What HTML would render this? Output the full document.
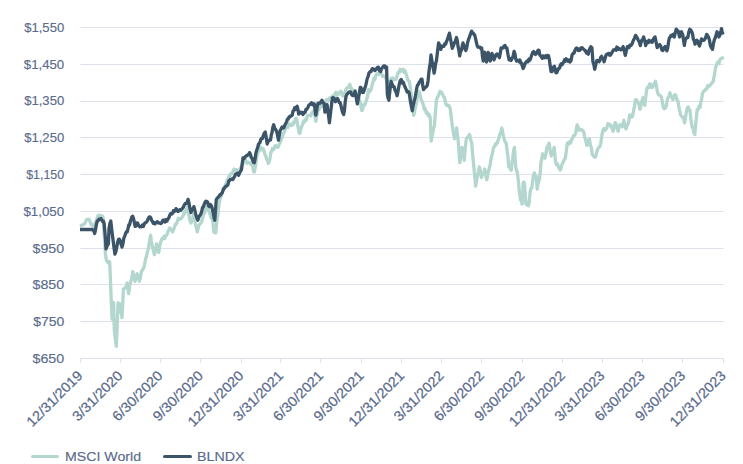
<!DOCTYPE html>
<html><head><meta charset="utf-8"><style>
html,body{margin:0;padding:0;background:#fff;}
body{width:743px;height:464px;overflow:hidden;}
svg{display:block;}
.t{font-family:"Liberation Sans",sans-serif;font-size:13px;fill:#5a6b8c;stroke:#5a6b8c;stroke-width:0.15px;}
.xl{font-size:14px;stroke-width:0.25px;}
</style></head><body>
<svg width="743" height="464" viewBox="0 0 743 464">
<line x1="80.5" y1="27.5" x2="723.5" y2="27.5" stroke="#dde1ea" stroke-width="1"/>
<text x="24.2" y="31.8" textLength="40.0" lengthAdjust="spacingAndGlyphs" class="t">$1,550</text>
<line x1="80.5" y1="64.5" x2="723.5" y2="64.5" stroke="#dde1ea" stroke-width="1"/>
<text x="23.8" y="68.6" textLength="40.4" lengthAdjust="spacingAndGlyphs" class="t">$1,450</text>
<line x1="80.5" y1="101.5" x2="723.5" y2="101.5" stroke="#dde1ea" stroke-width="1"/>
<text x="24.2" y="105.4" textLength="40.0" lengthAdjust="spacingAndGlyphs" class="t">$1,350</text>
<line x1="80.5" y1="137.5" x2="723.5" y2="137.5" stroke="#dde1ea" stroke-width="1"/>
<text x="24.2" y="142.1" textLength="40.0" lengthAdjust="spacingAndGlyphs" class="t">$1,250</text>
<line x1="80.5" y1="174.5" x2="723.5" y2="174.5" stroke="#dde1ea" stroke-width="1"/>
<text x="26.2" y="178.9" textLength="38.0" lengthAdjust="spacingAndGlyphs" class="t">$1,150</text>
<line x1="80.5" y1="211.5" x2="723.5" y2="211.5" stroke="#dde1ea" stroke-width="1"/>
<text x="23.4" y="215.7" textLength="40.8" lengthAdjust="spacingAndGlyphs" class="t">$1,050</text>
<line x1="80.5" y1="248.5" x2="723.5" y2="248.5" stroke="#dde1ea" stroke-width="1"/>
<text x="32.5" y="252.5" textLength="31.7" lengthAdjust="spacingAndGlyphs" class="t">$950</text>
<line x1="80.5" y1="284.5" x2="723.5" y2="284.5" stroke="#dde1ea" stroke-width="1"/>
<text x="32.5" y="289.2" textLength="31.7" lengthAdjust="spacingAndGlyphs" class="t">$850</text>
<line x1="80.5" y1="321.5" x2="723.5" y2="321.5" stroke="#dde1ea" stroke-width="1"/>
<text x="33.2" y="326.0" textLength="31.0" lengthAdjust="spacingAndGlyphs" class="t">$750</text>
<line x1="80.5" y1="358.5" x2="723.5" y2="358.5" stroke="#dde1ea" stroke-width="1"/>
<text x="32.5" y="362.8" textLength="31.7" lengthAdjust="spacingAndGlyphs" class="t">$650</text>
<line x1="80.5" y1="358.5" x2="80.5" y2="363" stroke="#dde1ea" stroke-width="1"/>
<text transform="translate(83.30,376.6) rotate(-45) scale(1.03,1)" text-anchor="end" class="t xl">12/31/2019</text>
<line x1="120.5" y1="358.5" x2="120.5" y2="363" stroke="#dde1ea" stroke-width="1"/>
<text transform="translate(123.37,376.6) rotate(-45) scale(1.03,1)" text-anchor="end" class="t xl">3/31/2020</text>
<line x1="160.5" y1="358.5" x2="160.5" y2="363" stroke="#dde1ea" stroke-width="1"/>
<text transform="translate(163.43,376.6) rotate(-45) scale(1.03,1)" text-anchor="end" class="t xl">6/30/2020</text>
<line x1="200.5" y1="358.5" x2="200.5" y2="363" stroke="#dde1ea" stroke-width="1"/>
<text transform="translate(203.94,376.6) rotate(-45) scale(1.03,1)" text-anchor="end" class="t xl">9/30/2020</text>
<line x1="241.5" y1="358.5" x2="241.5" y2="363" stroke="#dde1ea" stroke-width="1"/>
<text transform="translate(244.45,376.6) rotate(-45) scale(1.03,1)" text-anchor="end" class="t xl">12/31/2020</text>
<line x1="280.5" y1="358.5" x2="280.5" y2="363" stroke="#dde1ea" stroke-width="1"/>
<text transform="translate(284.08,376.6) rotate(-45) scale(1.03,1)" text-anchor="end" class="t xl">3/31/2021</text>
<line x1="320.5" y1="358.5" x2="320.5" y2="363" stroke="#dde1ea" stroke-width="1"/>
<text transform="translate(324.14,376.6) rotate(-45) scale(1.03,1)" text-anchor="end" class="t xl">6/30/2021</text>
<line x1="361.5" y1="358.5" x2="361.5" y2="363" stroke="#dde1ea" stroke-width="1"/>
<text transform="translate(364.65,376.6) rotate(-45) scale(1.03,1)" text-anchor="end" class="t xl">9/30/2021</text>
<line x1="401.5" y1="358.5" x2="401.5" y2="363" stroke="#dde1ea" stroke-width="1"/>
<text transform="translate(405.16,376.6) rotate(-45) scale(1.03,1)" text-anchor="end" class="t xl">12/31/2021</text>
<line x1="441.5" y1="358.5" x2="441.5" y2="363" stroke="#dde1ea" stroke-width="1"/>
<text transform="translate(444.79,376.6) rotate(-45) scale(1.03,1)" text-anchor="end" class="t xl">3/31/2022</text>
<line x1="481.5" y1="358.5" x2="481.5" y2="363" stroke="#dde1ea" stroke-width="1"/>
<text transform="translate(484.85,376.6) rotate(-45) scale(1.03,1)" text-anchor="end" class="t xl">6/30/2022</text>
<line x1="522.5" y1="358.5" x2="522.5" y2="363" stroke="#dde1ea" stroke-width="1"/>
<text transform="translate(525.36,376.6) rotate(-45) scale(1.03,1)" text-anchor="end" class="t xl">9/30/2022</text>
<line x1="562.5" y1="358.5" x2="562.5" y2="363" stroke="#dde1ea" stroke-width="1"/>
<text transform="translate(565.87,376.6) rotate(-45) scale(1.03,1)" text-anchor="end" class="t xl">12/31/2022</text>
<line x1="602.5" y1="358.5" x2="602.5" y2="363" stroke="#dde1ea" stroke-width="1"/>
<text transform="translate(605.50,376.6) rotate(-45) scale(1.03,1)" text-anchor="end" class="t xl">3/31/2023</text>
<line x1="642.5" y1="358.5" x2="642.5" y2="363" stroke="#dde1ea" stroke-width="1"/>
<text transform="translate(645.56,376.6) rotate(-45) scale(1.03,1)" text-anchor="end" class="t xl">6/30/2023</text>
<line x1="682.5" y1="358.5" x2="682.5" y2="363" stroke="#dde1ea" stroke-width="1"/>
<text transform="translate(686.07,376.6) rotate(-45) scale(1.03,1)" text-anchor="end" class="t xl">9/30/2023</text>
<line x1="723.5" y1="358.5" x2="723.5" y2="363" stroke="#dde1ea" stroke-width="1"/>
<text transform="translate(726.58,376.6) rotate(-45) scale(1.03,1)" text-anchor="end" class="t xl">12/31/2023</text>
<path d="M80.0,226.2 L80.9,225.7 L81.8,225.2 L82.7,224.8 L83.6,224.3 L84.5,223.8 L85.6,221.7 L86.7,219.5 L87.5,219.5 L88.4,219.5 L89.2,219.5 L90.2,222.2 L91.3,225.0 L92.2,224.5 L93.1,226.2 L94.0,226.6 L94.8,223.9 L95.6,222.7 L96.4,220.7 L97.2,218.0 L98.0,215.7 L98.8,215.0 L99.7,217.8 L100.5,215.9 L101.4,215.6 L102.4,216.2 L103.3,218.0 L104.0,231.8 L104.8,241.7 L105.4,254.3 L106.5,260.8 L107.3,261.0 L108.1,262.7 L108.9,261.5 L109.7,261.9 L110.3,275.9 L111.2,299.6 L112.1,319.2 L112.8,311.5 L113.6,302.6 L114.3,329.8 L115.2,338.0 L116.3,346.4 L117.3,322.2 L118.1,302.6 L119.0,312.0 L119.7,306.7 L120.4,304.1 L121.2,311.4 L122.0,317.7 L122.7,304.8 L123.4,289.0 L124.5,288.3 L125.6,287.5 L126.3,286.2 L127.1,283.0 L127.9,289.0 L128.7,293.6 L129.6,286.2 L130.6,282.3 L131.7,278.0 L132.8,271.6 L133.9,276.8 L135.0,281.3 L136.1,276.7 L137.1,273.7 L138.2,275.6 L139.3,281.3 L140.4,277.9 L141.4,271.6 L142.5,269.8 L143.6,268.3 L144.6,264.3 L145.7,258.6 L146.5,256.4 L147.3,252.1 L148.2,249.3 L149.0,243.9 L149.8,239.2 L150.7,235.3 L151.4,241.9 L152.2,246.0 L153.3,250.1 L154.4,254.7 L155.4,251.0 L156.5,243.9 L157.6,249.7 L158.7,252.5 L159.8,245.5 L160.8,241.7 L161.9,238.7 L162.9,238.6 L163.8,236.5 L164.7,238.5 L165.5,235.5 L166.4,235.3 L167.3,233.8 L168.1,231.1 L168.9,230.0 L169.7,228.0 L170.7,228.8 L171.6,230.0 L172.6,231.9 L173.6,229.6 L174.5,227.0 L175.5,224.1 L176.5,223.8 L177.4,221.0 L178.4,218.3 L179.4,219.4 L180.4,218.6 L181.3,218.5 L182.3,216.7 L183.3,215.4 L184.3,212.1 L185.2,212.9 L186.2,209.5 L187.1,209.5 L188.1,205.7 L189.1,216.3 L190.1,221.3 L191.0,223.1 L191.8,220.5 L192.7,218.2 L193.5,214.4 L194.4,217.6 L195.4,224.5 L196.4,227.8 L197.3,231.9 L198.1,228.4 L199.0,225.0 L199.8,224.1 L200.8,223.2 L201.7,221.5 L202.7,217.3 L203.7,213.0 L204.6,213.2 L205.6,208.9 L206.6,206.6 L207.6,207.2 L208.5,209.7 L209.5,212.5 L210.5,215.8 L211.4,218.5 L212.4,219.2 L213.1,223.7 L213.8,231.9 L214.8,232.8 L215.8,232.8 L216.5,224.2 L217.2,219.2 L218.2,211.9 L219.2,202.8 L220.2,198.5 L221.1,197.0 L222.1,193.8 L223.1,188.2 L223.9,187.1 L224.7,188.0 L225.5,184.2 L226.3,183.9 L227.1,180.3 L227.9,180.5 L228.8,176.3 L229.6,176.3 L230.5,174.0 L231.4,173.8 L232.3,173.5 L233.2,170.7 L234.1,169.1 L235.0,169.9 L235.9,171.6 L236.7,169.6 L237.6,172.4 L238.4,172.4 L239.3,171.0 L240.2,168.5 L241.1,166.9 L242.0,165.1 L242.9,163.6 L243.8,161.5 L244.7,159.1 L245.5,160.1 L246.3,161.2 L247.1,163.3 L247.9,162.3 L248.7,162.6 L249.5,162.6 L250.3,164.0 L251.1,163.4 L251.9,164.5 L252.8,166.9 L253.6,171.8 L254.4,172.0 L255.2,167.5 L256.0,163.0 L256.8,156.3 L257.6,153.7 L258.4,151.7 L259.2,150.8 L260.0,146.9 L260.8,147.2 L261.6,148.8 L262.5,149.9 L263.3,148.7 L264.1,151.6 L265.0,154.5 L265.8,156.2 L266.7,159.4 L267.5,160.5 L268.4,163.4 L269.2,161.3 L270.0,158.5 L270.8,152.6 L271.6,151.6 L272.4,148.5 L273.2,149.6 L274.0,149.4 L274.8,146.2 L275.6,145.5 L276.5,146.5 L277.3,147.3 L278.1,147.2 L279.1,144.3 L280.0,142.9 L281.1,139.7 L282.2,137.6 L283.0,134.7 L283.8,132.8 L284.6,131.5 L285.4,129.0 L286.3,127.3 L287.1,126.8 L288.0,127.5 L288.8,123.7 L289.7,124.7 L290.5,125.0 L291.3,125.6 L292.1,123.9 L292.9,124.7 L293.7,122.0 L294.5,122.7 L295.4,118.8 L296.2,118.2 L297.0,120.7 L297.8,125.5 L298.6,130.3 L299.4,133.3 L300.0,133.3 L301.0,128.2 L302.0,125.6 L303.0,122.8 L303.9,121.0 L304.7,122.0 L305.6,119.3 L306.4,119.9 L307.3,116.0 L308.1,115.6 L309.0,115.2 L309.9,115.3 L310.8,115.7 L311.6,113.5 L312.5,112.1 L313.4,111.2 L314.3,112.2 L315.1,116.9 L315.8,121.3 L316.6,116.0 L317.3,114.5 L318.1,109.2 L319.0,109.6 L320.0,106.1 L320.9,105.5 L321.9,106.7 L322.8,105.1 L323.7,104.8 L324.7,102.0 L325.6,101.7 L326.5,99.6 L327.3,99.6 L328.2,100.9 L329.1,98.2 L330.0,97.8 L330.8,97.4 L331.7,97.1 L332.6,96.2 L333.4,95.6 L334.2,97.1 L335.1,93.5 L335.9,92.3 L336.8,95.5 L337.6,94.7 L338.5,92.6 L339.6,93.8 L340.7,91.1 L341.7,92.3 L342.7,95.9 L343.7,95.6 L344.7,94.8 L345.8,89.5 L346.8,88.1 L347.8,87.8 L348.8,86.9 L349.8,84.3 L350.9,87.6 L352.0,89.6 L352.9,90.4 L353.9,90.3 L354.9,91.2 L355.8,92.6 L356.8,93.4 L357.7,94.7 L358.7,98.7 L359.6,100.2 L360.7,104.6 L361.8,110.7 L362.6,109.9 L363.3,104.9 L364.1,104.7 L364.9,104.8 L365.6,102.5 L366.4,100.2 L367.5,96.6 L368.6,89.6 L369.3,92.0 L370.0,91.2 L371.0,89.8 L372.0,85.4 L373.0,82.1 L373.9,78.3 L374.9,79.3 L375.9,75.2 L376.8,74.6 L377.8,73.4 L378.7,74.5 L379.7,73.6 L380.6,73.1 L381.5,73.5 L382.5,76.4 L383.4,75.8 L384.3,76.1 L385.2,77.4 L386.2,78.9 L387.2,83.2 L388.1,83.7 L389.1,81.8 L390.1,81.3 L391.1,78.4 L392.1,78.2 L393.0,77.9 L393.9,79.7 L394.9,79.9 L396.0,79.3 L397.1,76.1 L398.1,72.5 L399.2,72.7 L400.2,69.3 L401.2,71.0 L402.2,70.5 L403.2,69.3 L404.2,72.4 L405.2,70.9 L406.2,74.6 L407.0,77.1 L407.7,80.1 L408.5,80.6 L409.2,81.1 L410.0,85.2 L411.1,93.3 L412.2,103.3 L412.9,108.4 L413.7,115.3 L414.5,111.9 L415.2,108.0 L416.0,104.8 L416.8,100.2 L417.5,96.8 L418.3,91.2 L419.3,92.2 L420.3,95.4 L421.3,100.2 L422.3,101.7 L423.3,104.8 L424.3,109.3 L425.3,108.6 L426.3,113.2 L427.3,112.3 L428.3,115.7 L429.3,114.6 L430.3,118.3 L431.2,141.0 L432.0,136.7 L432.9,132.3 L433.6,128.4 L434.4,126.0 L435.4,112.4 L436.4,100.2 L437.3,97.4 L438.2,96.3 L439.1,93.8 L440.0,91.2 L440.9,92.0 L441.8,92.8 L442.7,94.7 L443.6,96.8 L444.4,97.4 L445.2,101.3 L446.0,104.1 L446.8,105.4 L447.6,105.7 L448.5,105.3 L449.4,106.5 L450.2,108.6 L451.2,116.7 L452.3,125.9 L453.4,132.8 L454.5,138.8 L455.6,134.5 L456.6,128.0 L457.5,135.1 L458.4,143.1 L459.1,154.0 L459.9,162.5 L460.9,155.4 L462.0,147.4 L463.1,153.6 L464.2,160.3 L465.2,149.0 L466.3,138.8 L467.1,137.7 L468.0,137.5 L468.8,135.3 L469.6,134.5 L470.6,139.6 L471.7,143.1 L472.5,152.6 L473.4,162.5 L474.5,173.3 L475.6,186.2 L476.4,182.0 L477.1,177.6 L478.2,173.0 L479.3,166.8 L480.4,170.5 L481.4,177.6 L482.2,175.1 L483.0,173.0 L483.9,172.7 L484.7,169.0 L485.8,176.1 L486.8,179.7 L487.9,173.8 L489.0,169.0 L490.1,165.2 L491.1,158.2 L492.2,154.5 L493.3,148.5 L494.1,146.5 L494.9,146.2 L495.7,143.8 L496.5,144.2 L497.3,143.0 L498.1,140.0 L498.9,138.5 L499.7,134.5 L500.8,132.4 L501.9,128.0 L503.0,134.1 L504.1,138.8 L505.1,141.9 L506.2,143.1 L507.1,150.8 L508.1,158.0 L508.6,166.5 L509.5,166.1 L510.4,169.3 L511.3,170.2 L512.0,162.2 L512.7,158.2 L513.5,151.4 L514.4,147.4 L515.6,166.5 L516.4,170.3 L517.2,171.9 L518.3,180.5 L519.4,192.3 L520.5,199.9 L521.3,200.2 L522.1,204.2 L523.2,182.6 L523.9,182.1 L524.6,184.8 L525.9,204.2 L526.7,203.1 L527.5,205.3 L528.3,205.7 L529.1,203.1 L530.2,191.3 L531.0,188.4 L531.8,188.0 L532.9,179.4 L533.7,174.2 L534.5,172.9 L535.3,175.9 L536.1,176.2 L537.2,189.1 L538.0,183.8 L538.8,181.6 L539.6,177.6 L540.4,170.8 L540.9,162.2 L541.8,158.7 L542.6,153.9 L543.7,157.4 L544.8,158.2 L545.8,154.6 L546.9,147.4 L548.0,145.6 L549.1,143.1 L550.2,150.7 L551.3,156.0 L552.2,151.3 L553.2,151.3 L554.1,147.4 L554.9,155.0 L555.6,162.5 L556.5,164.8 L557.5,163.8 L558.4,166.8 L559.2,168.5 L560.1,170.0 L560.9,169.0 L562.0,164.0 L563.1,162.5 L564.2,159.6 L565.3,158.2 L566.3,150.9 L567.4,143.1 L568.2,144.4 L569.0,142.1 L569.8,141.8 L570.6,143.1 L571.5,139.6 L572.5,138.6 L573.4,135.6 L574.5,135.5 L575.6,133.4 L576.4,128.7 L577.1,124.8 L578.2,127.0 L579.3,130.2 L580.1,129.8 L580.9,129.6 L581.7,129.9 L582.5,130.2 L583.6,131.7 L584.7,136.6 L585.8,141.0 L586.8,145.3 L587.7,145.0 L588.5,140.6 L589.4,138.8 L590.3,144.8 L591.3,147.5 L592.2,153.9 L593.0,155.5 L593.8,156.5 L594.6,157.0 L595.4,157.1 L596.3,154.3 L597.1,151.3 L598.0,148.5 L598.9,147.3 L599.9,146.5 L600.8,143.1 L601.9,135.2 L603.0,130.2 L604.0,128.6 L605.1,130.2 L606.0,129.0 L607.0,127.5 L607.9,123.7 L608.8,124.1 L609.6,124.2 L610.5,124.8 L611.4,127.8 L612.2,127.9 L613.1,131.3 L614.2,126.0 L615.3,122.6 L616.2,124.3 L617.2,128.7 L618.1,131.3 L619.0,127.3 L620.0,124.8 L621.1,124.7 L622.2,126.8 L623.0,124.3 L623.9,120.3 L625.0,126.5 L626.0,129.0 L627.1,125.5 L628.2,123.6 L629.0,120.1 L629.7,115.0 L630.8,115.7 L631.9,117.1 L632.6,115.8 L633.4,111.7 L634.5,106.1 L635.5,99.9 L636.6,100.0 L637.7,102.0 L638.5,103.3 L639.2,105.0 L640.0,109.3 L641.0,105.3 L641.9,101.0 L642.9,97.6 L643.8,100.2 L644.8,105.4 L645.8,96.6 L646.8,88.9 L647.8,87.0 L648.8,87.6 L649.7,83.9 L650.7,84.1 L651.7,87.5 L652.6,87.0 L653.6,85.0 L654.5,83.5 L655.5,81.2 L656.5,86.4 L657.4,91.8 L658.4,94.4 L659.3,95.5 L660.3,95.7 L661.3,96.7 L662.3,101.9 L663.3,107.3 L664.2,108.7 L665.2,108.3 L666.2,106.2 L667.1,100.8 L668.1,97.6 L669.0,96.1 L670.0,92.8 L671.0,96.9 L671.9,97.2 L672.9,99.6 L673.9,96.1 L674.9,94.7 L675.9,95.6 L676.8,99.4 L677.8,100.5 L678.8,106.6 L679.7,111.2 L680.7,115.0 L681.6,116.5 L682.6,117.0 L683.6,118.9 L684.6,122.8 L685.6,116.4 L686.5,111.5 L687.5,107.3 L688.3,107.0 L689.2,110.1 L690.0,110.2 L690.7,117.9 L691.4,122.8 L692.2,127.3 L693.1,127.7 L693.9,133.0 L694.8,134.5 L695.6,125.4 L696.4,117.4 L697.2,109.3 L698.2,109.5 L699.1,106.3 L700.1,107.3 L700.9,101.2 L701.6,99.6 L702.4,93.8 L703.3,91.7 L704.1,90.8 L705.0,90.4 L705.9,88.9 L706.9,88.9 L707.8,85.5 L708.8,86.1 L709.8,86.0 L710.8,84.4 L711.7,83.3 L712.7,82.1 L713.1,81.6 L714.4,75.0 L715.3,69.1 L716.3,65.5 L717.6,62.2 L718.9,63.5 L720.2,59.0 L721.2,58.7 L722.2,57.7 L723.0,59.6" fill="none" stroke="#b3d6cf" stroke-width="3.3" stroke-linejoin="round" stroke-linecap="butt"/>
<path d="M80.0,229.5 L80.9,229.5 L81.8,229.5 L82.7,229.5 L83.5,229.5 L84.4,229.5 L85.3,229.5 L86.2,229.5 L87.1,229.5 L88.0,229.5 L88.9,229.5 L89.7,229.5 L90.6,229.5 L91.5,229.5 L92.4,229.5 L93.2,230.3 L93.9,231.0 L94.7,233.5 L95.6,229.2 L96.5,224.0 L97.3,221.0 L98.1,220.9 L98.9,219.2 L99.9,219.2 L100.9,218.6 L101.9,220.4 L102.7,221.6 L103.4,221.3 L104.2,224.0 L105.4,238.2 L106.0,248.9 L106.8,247.1 L107.6,244.3 L108.4,244.1 L109.0,228.7 L109.9,223.5 L110.8,221.0 L111.9,231.1 L112.8,238.0 L113.7,245.3 L114.9,254.2 L115.8,252.0 L116.7,247.7 L117.6,242.3 L118.5,239.4 L119.3,239.1 L120.2,240.6 L121.1,244.3 L122.0,247.1 L122.9,244.1 L123.8,238.2 L124.7,236.1 L125.6,233.5 L126.4,231.6 L127.2,231.8 L128.0,228.7 L128.8,224.9 L129.5,225.1 L130.3,221.6 L131.1,219.2 L131.9,216.9 L132.7,216.3 L133.5,218.4 L134.3,222.4 L135.1,226.4 L135.9,226.2 L136.6,223.0 L137.4,222.8 L138.2,224.4 L139.0,226.0 L139.8,226.9 L140.7,226.4 L141.6,226.8 L142.5,225.1 L143.4,226.4 L144.4,223.6 L145.3,222.7 L146.3,222.2 L147.3,221.0 L148.3,218.4 L149.3,216.9 L150.0,216.9 L150.8,217.9 L151.7,220.4 L152.5,221.6 L153.3,223.4 L154.1,222.5 L154.9,223.8 L155.7,223.2 L156.5,222.3 L157.4,221.7 L158.2,222.9 L159.1,223.0 L160.0,223.1 L161.0,223.6 L161.9,222.4 L162.9,220.2 L163.9,220.2 L164.9,222.1 L165.8,219.6 L166.8,221.2 L167.8,219.0 L168.7,218.2 L169.7,215.4 L170.7,213.6 L171.6,214.0 L172.6,213.4 L173.4,210.7 L174.3,211.5 L175.2,210.6 L176.0,208.6 L177.0,209.6 L177.9,211.4 L178.9,211.0 L179.8,209.8 L180.6,210.4 L181.5,209.5 L182.3,208.6 L183.3,207.2 L184.2,205.2 L185.2,203.7 L186.2,203.4 L187.1,202.3 L188.1,199.4 L189.1,203.7 L190.0,208.7 L191.0,212.5 L192.0,209.1 L192.9,209.2 L193.9,206.6 L194.9,210.5 L195.9,215.0 L196.8,217.8 L197.8,220.2 L198.8,217.3 L199.8,215.5 L200.7,214.2 L201.7,211.5 L202.5,207.7 L203.3,206.8 L204.1,204.7 L204.9,202.5 L205.8,201.2 L206.6,201.3 L207.6,202.1 L208.5,205.7 L209.5,206.6 L210.4,204.5 L211.4,205.7 L212.2,208.5 L213.1,212.6 L214.0,217.8 L214.8,220.2 L215.6,208.5 L216.3,199.4 L217.3,198.1 L218.2,197.3 L219.2,196.0 L219.9,194.7 L220.7,194.8 L221.5,193.5 L222.3,192.6 L223.1,190.3 L223.9,188.5 L224.7,187.9 L225.5,186.6 L226.3,186.0 L227.1,185.9 L227.9,184.8 L228.8,180.8 L229.6,180.6 L230.4,179.3 L231.2,179.2 L232.0,179.0 L232.8,179.6 L233.7,177.8 L234.7,176.3 L235.6,174.2 L236.6,173.8 L237.6,173.3 L238.6,175.3 L239.5,173.2 L240.5,171.3 L241.4,169.9 L242.2,164.1 L243.0,157.9 L244.0,158.7 L245.0,157.2 L245.9,156.0 L246.9,155.6 L247.9,154.6 L248.7,154.9 L249.5,152.6 L250.3,153.8 L251.1,157.1 L251.9,157.9 L252.7,160.4 L253.5,162.3 L254.3,162.7 L255.1,158.8 L255.9,153.0 L256.7,150.2 L257.6,147.8 L258.4,144.5 L259.2,143.3 L260.0,142.5 L260.8,139.5 L261.6,138.3 L262.4,138.5 L263.4,135.4 L264.3,133.1 L265.3,132.0 L266.2,137.5 L267.2,144.1 L268.0,141.7 L268.9,140.5 L269.7,140.0 L270.5,140.1 L271.3,135.0 L272.1,132.0 L272.9,127.0 L273.7,124.7 L274.5,127.8 L275.3,128.9 L276.1,130.4 L276.9,132.5 L277.7,136.1 L278.5,140.1 L279.4,134.8 L280.2,130.4 L281.2,128.8 L282.1,126.9 L283.1,128.1 L284.0,127.4 L285.0,124.7 L285.8,123.2 L286.6,121.8 L287.4,119.2 L288.2,119.1 L289.0,117.0 L289.9,116.9 L290.7,115.9 L291.5,115.8 L292.3,115.0 L293.1,111.0 L293.9,110.2 L294.7,107.7 L295.5,109.6 L296.3,107.3 L297.1,106.2 L297.9,109.1 L298.7,114.2 L300.0,112.2 L301.0,113.1 L302.0,112.2 L303.0,114.5 L304.0,112.8 L305.0,112.5 L306.0,109.2 L306.9,109.3 L307.8,107.7 L308.8,105.3 L309.7,104.5 L310.6,103.9 L311.5,102.8 L312.5,104.8 L313.4,104.0 L314.3,103.9 L315.1,110.4 L315.8,115.2 L316.6,110.7 L317.3,106.3 L318.1,103.2 L319.1,103.4 L320.0,103.3 L320.9,102.1 L321.9,100.2 L323.0,102.7 L324.1,103.2 L324.9,112.2 L326.0,109.5 L327.1,104.7 L327.9,111.5 L328.6,115.9 L329.4,122.8 L330.4,114.6 L331.4,105.7 L332.4,97.9 L333.4,97.7 L334.4,98.9 L335.4,101.7 L336.2,100.0 L336.9,98.9 L337.7,98.7 L338.5,100.5 L339.2,102.6 L340.0,102.4 L340.9,105.3 L341.9,109.8 L342.8,113.0 L343.7,114.5 L344.5,109.9 L345.2,102.0 L346.0,96.4 L346.9,94.4 L347.9,93.3 L348.9,92.1 L349.8,91.9 L350.8,92.2 L351.8,94.8 L352.8,95.6 L353.6,95.4 L354.3,93.7 L355.1,91.1 L356.2,97.4 L357.3,103.9 L358.3,98.9 L359.3,93.8 L360.3,87.3 L361.1,87.7 L361.8,91.3 L362.6,92.6 L363.4,92.4 L364.1,90.5 L364.9,88.1 L366.0,84.4 L367.1,79.0 L368.1,76.5 L369.0,73.0 L370.0,71.6 L371.0,71.5 L372.0,69.1 L373.0,68.6 L374.0,69.8 L375.0,70.6 L376.0,69.3 L376.8,68.2 L377.5,67.5 L378.3,67.1 L379.1,70.0 L379.8,70.8 L380.6,71.6 L381.7,68.3 L382.8,67.1 L383.8,65.9 L384.7,66.0 L385.7,68.4 L386.6,67.1 L387.3,94.2 L388.1,98.2 L388.9,100.2 L390.0,89.7 L391.1,81.4 L392.1,84.2 L393.1,86.5 L394.1,86.7 L395.1,90.2 L396.1,92.2 L397.1,95.7 L398.1,90.8 L399.2,84.5 L400.2,80.6 L401.2,79.5 L402.2,83.1 L403.2,82.1 L404.2,85.1 L405.2,87.3 L406.2,89.7 L407.2,92.1 L408.2,91.5 L409.2,92.7 L410.2,99.9 L411.2,105.8 L412.2,110.8 L413.2,105.3 L414.2,100.9 L415.2,97.2 L416.0,92.5 L416.7,88.4 L417.5,85.2 L418.4,84.3 L419.3,82.0 L420.2,81.3 L421.1,79.1 L422.0,79.1 L422.8,85.7 L423.5,89.7 L424.4,88.1 L425.4,87.3 L426.4,86.6 L427.3,85.2 L428.1,80.5 L428.8,72.9 L429.6,67.1 L430.3,62.4 L431.0,55.0 L432.0,61.0 L433.1,67.2 L434.1,73.1 L434.9,69.1 L435.6,63.5 L436.4,61.0 L437.5,51.8 L438.6,42.9 L439.7,45.1 L440.8,49.4 L441.9,46.2 L442.9,46.2 L443.8,46.4 L444.8,43.7 L445.7,44.0 L446.6,41.2 L447.5,39.3 L448.5,36.1 L449.4,33.2 L450.3,37.7 L451.3,43.3 L452.2,48.3 L453.3,45.8 L454.4,42.9 L455.4,41.1 L456.5,37.5 L457.3,40.8 L458.1,46.9 L458.9,50.5 L459.7,55.9 L460.5,51.9 L461.4,50.3 L462.2,46.2 L463.0,42.9 L463.9,45.6 L464.9,48.8 L465.8,50.5 L466.7,48.2 L467.5,43.1 L468.4,39.7 L469.2,37.9 L470.0,35.4 L470.8,33.3 L471.6,31.1 L472.4,32.8 L473.2,33.1 L474.0,34.4 L474.8,35.4 L475.9,40.2 L477.0,45.1 L478.0,47.2 L479.0,47.1 L480.0,47.2 L480.9,48.8 L481.7,48.0 L482.4,55.9 L483.2,61.0 L483.9,55.9 L484.7,52.3 L485.6,57.3 L486.5,62.0 L487.4,58.6 L488.2,52.3 L489.2,57.7 L490.3,61.0 L491.1,56.0 L491.9,53.4 L492.9,55.4 L494.0,59.9 L495.1,57.0 L496.2,54.5 L497.0,53.9 L497.8,55.3 L498.6,55.5 L499.4,57.7 L500.2,53.4 L501.1,48.0 L502.1,48.2 L503.1,47.9 L504.1,45.9 L505.0,45.5 L506.0,48.0 L506.9,48.0 L508.0,54.5 L509.1,59.9 L510.0,58.4 L511.0,60.4 L511.9,58.8 L513.0,56.5 L514.1,51.3 L514.9,53.6 L515.8,59.2 L516.6,61.0 L517.4,60.4 L518.2,60.4 L519.1,61.7 L519.9,59.9 L520.7,63.1 L521.5,63.1 L522.3,66.1 L523.1,68.5 L523.9,66.9 L524.7,64.7 L525.5,62.7 L526.3,62.0 L527.2,60.9 L528.1,61.7 L529.1,58.9 L530.0,59.9 L530.9,57.5 L531.9,54.6 L532.8,52.3 L533.7,51.5 L534.7,53.2 L535.6,54.5 L536.5,53.5 L537.3,51.7 L538.2,50.2 L539.0,50.4 L539.8,55.0 L540.6,55.9 L541.4,56.6 L542.2,58.4 L543.0,55.9 L543.9,56.7 L544.7,57.7 L545.7,55.7 L546.6,57.5 L547.5,55.4 L548.5,55.6 L549.4,59.8 L550.2,66.1 L551.1,71.7 L551.9,71.7 L552.8,70.0 L553.6,66.9 L554.4,66.3 L555.1,68.4 L555.9,72.8 L556.8,72.7 L557.8,70.2 L558.7,68.5 L559.6,68.1 L560.4,65.0 L561.3,63.8 L562.1,64.8 L563.0,63.1 L563.8,61.8 L564.6,59.6 L565.4,61.3 L566.2,58.8 L567.2,60.0 L568.2,61.4 L569.1,59.9 L570.1,62.0 L571.1,60.3 L572.1,54.9 L573.1,53.4 L574.0,53.2 L574.9,50.6 L575.7,48.8 L576.6,48.0 L577.5,48.7 L578.3,50.5 L579.1,48.9 L580.0,50.2 L581.1,47.8 L582.2,47.7 L583.2,48.9 L584.3,49.9 L585.4,50.7 L586.5,53.1 L587.4,52.4 L588.2,54.2 L589.0,50.4 L589.7,48.8 L590.8,46.8 L591.9,47.7 L592.9,61.7 L593.8,64.5 L594.7,69.3 L595.8,64.3 L596.8,60.6 L597.9,60.5 L599.0,61.7 L599.9,60.7 L600.7,57.4 L601.6,56.3 L602.4,58.1 L603.3,58.9 L604.1,61.7 L605.0,58.7 L606.0,55.2 L606.9,54.2 L607.8,53.8 L608.8,53.4 L609.7,55.3 L610.6,54.9 L611.4,53.3 L612.3,52.0 L613.4,50.0 L614.5,49.9 L615.3,49.3 L616.1,50.2 L616.9,47.0 L617.7,47.7 L618.5,49.3 L619.3,48.6 L620.1,49.3 L620.9,49.9 L622.0,49.3 L623.1,46.6 L624.2,50.6 L625.3,55.3 L626.3,51.0 L627.4,46.6 L628.2,47.0 L629.0,47.6 L629.8,45.3 L630.6,45.6 L631.5,44.9 L632.5,42.7 L633.4,40.2 L634.5,38.2 L635.6,35.4 L636.5,36.7 L637.3,38.1 L638.2,40.2 L639.2,41.5 L640.3,45.6 L641.1,42.2 L642.0,39.9 L642.8,39.8 L643.6,36.9 L644.7,40.5 L645.7,45.6 L646.5,43.2 L647.4,41.6 L648.2,42.6 L649.0,40.2 L649.8,41.9 L650.6,41.8 L651.4,41.1 L652.2,42.3 L653.1,39.7 L654.1,38.0 L655.0,36.9 L656.1,42.2 L657.2,47.7 L658.0,45.5 L658.9,45.4 L659.7,44.5 L660.8,46.4 L661.9,49.9 L662.7,50.6 L663.5,49.8 L664.3,47.6 L665.1,46.6 L666.0,47.9 L666.9,50.9 L667.7,48.1 L668.6,41.7 L669.4,38.0 L670.2,37.0 L671.0,35.4 L671.9,36.0 L672.7,35.9 L673.0,34.4 L674.3,37.0 L675.2,33.0 L676.2,29.2 L677.2,30.2 L678.2,31.2 L679.5,37.0 L680.5,33.4 L681.4,31.8 L682.7,34.4 L683.5,39.9 L684.4,45.4 L685.1,40.6 L685.9,38.9 L686.9,37.5 L687.9,37.6 L688.8,32.1 L689.8,29.2 L690.8,30.2 L691.8,31.8 L692.6,34.2 L693.4,39.6 L694.2,40.3 L695.0,44.1 L696.0,41.5 L696.9,40.2 L697.8,41.3 L698.6,44.3 L699.5,46.0 L700.5,42.5 L701.5,38.9 L702.3,40.1 L703.2,40.3 L704.0,40.2 L704.9,39.0 L705.7,37.5 L706.6,34.4 L707.6,35.6 L708.6,37.6 L709.5,40.3 L710.3,45.6 L711.2,47.3 L712.5,49.3 L713.5,43.3 L714.4,39.6 L715.3,37.7 L716.1,34.9 L717.0,31.8 L718.0,32.9 L718.9,37.0 L719.8,35.3 L720.6,32.7 L721.5,28.6 L722.2,31.9 L723.0,34.4" fill="none" stroke="#3b5468" stroke-width="3.3" stroke-linejoin="round" stroke-linecap="butt"/>
<line x1="32.5" y1="456.5" x2="57.5" y2="456.5" stroke="#b3d6cf" stroke-width="3" stroke-linecap="round"/>
<text transform="translate(65,461) scale(1.09,1)" class="t">MSCI World</text>
<line x1="164.5" y1="456.5" x2="190.5" y2="456.5" stroke="#3b5468" stroke-width="3" stroke-linecap="round"/>
<text transform="translate(197,461) scale(1.10,1)" class="t">BLNDX</text>
</svg></body></html>
